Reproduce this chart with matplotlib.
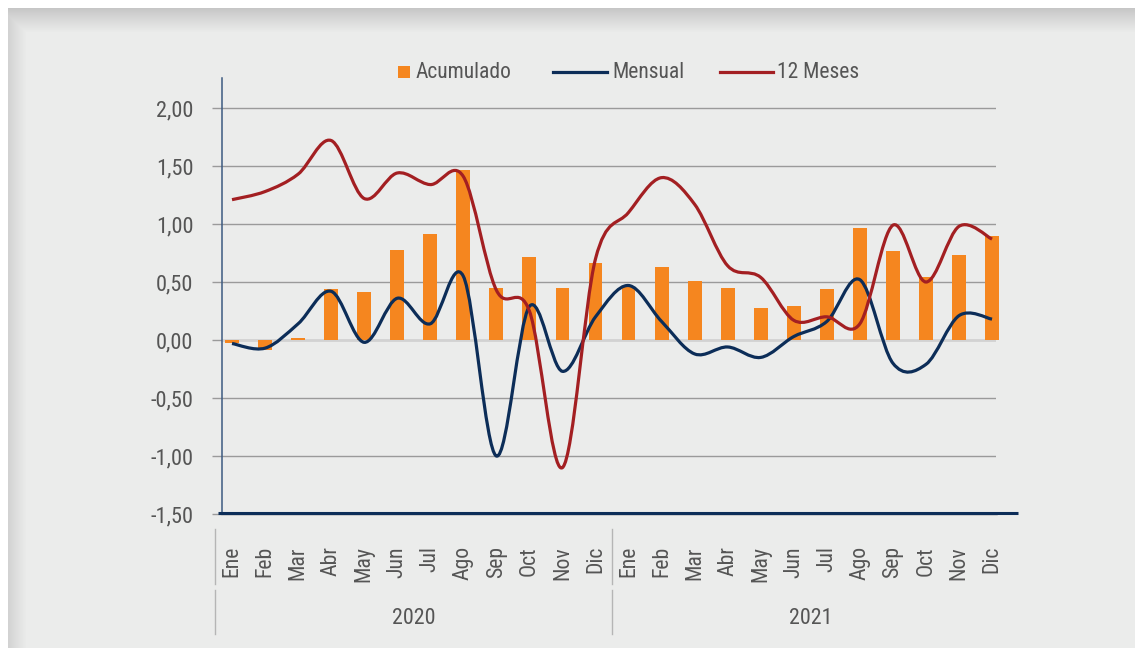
import numpy as np
import matplotlib
matplotlib.use("Agg")
import matplotlib.pyplot as plt
import matplotlib.transforms as mtransforms
from matplotlib.path import Path
from matplotlib.patches import PathPatch, Rectangle
from matplotlib.lines import Line2D
from matplotlib import font_manager

# =========================
# Datos
# =========================
meses = ["Ene", "Feb", "Mar", "Abr", "May", "Jun",
         "Jul", "Ago", "Sep", "Oct", "Nov", "Dic"] * 2
anios = ["2020", "2021"]

acumulado = [-0.03, -0.09, 0.02, 0.44, 0.41, 0.78, 0.91, 1.47, 0.45, 0.72, 0.45, 0.66,
             0.46, 0.63, 0.51, 0.45, 0.28, 0.29, 0.44, 0.97, 0.77, 0.54, 0.73, 0.90]
mensual = [-0.03, -0.07, 0.14, 0.42, -0.02, 0.36, 0.14, 0.55, -1.00, 0.29, -0.27, 0.20,
           0.47, 0.16, -0.12, -0.06, -0.15, 0.03, 0.16, 0.52, -0.20, -0.21, 0.21, 0.18]
doce_meses = [1.21, 1.28, 1.43, 1.72, 1.22, 1.44, 1.34, 1.41, 0.43, 0.25, -1.10, 0.70,
              1.10, 1.40, 1.17, 0.64, 0.54, 0.17, 0.20, 0.14, 0.99, 0.50, 0.98, 0.87]

y_ticks = [-1.5, -1.0, -0.5, 0.0, 0.5, 1.0, 1.5, 2.0]

# =========================
# Estilo / fuente
# =========================
NARANJA = "#f5861f"
AZUL = "#0c2d58"
ROJO = "#a31f22"
GRIS_TXT = "#555555"
PANEL = np.array([235, 236, 235]) / 255.0

fuentes = font_manager.fontManager.ttflist
nombres = {f.name for f in fuentes}
STRETCH = "normal"
if "Liberation Sans Narrow" in nombres:
    FAM = "Liberation Sans Narrow"
elif "Roboto Condensed" in nombres:
    FAM = "Roboto Condensed"
elif any(f.name == "DejaVu Sans" and "condensed" in str(f.stretch) for f in fuentes):
    FAM = "DejaVu Sans"
    STRETCH = "condensed"
else:
    FAM = "Roboto" if "Roboto" in nombres else "Liberation Sans"
plt.rcParams["font.family"] = [FAM, "DejaVu Sans"]
plt.rcParams["font.stretch"] = STRETCH

W, H = 1135, 648
fig = plt.figure(figsize=(W / 100, H / 100), dpi=100)
fig.patch.set_facecolor("white")
renderer = fig.canvas.get_renderer()


def tam_para(texto, ancho_px):
    # tamano de fuente para que el texto ocupe ancho_px
    t = fig.text(0, 0, texto, fontsize=10)
    w = t.get_window_extent(renderer).width
    t.remove()
    return 10 * ancho_px / w


fs_ticks = tam_para("-1,50", 43)
fs_leyenda = tam_para("Acumulado", 96)
fs_mes = tam_para("May", 36)
fs_anio = tam_para("2020", 43)

# fondo con sombra arriba e izquierda
bg = fig.add_axes([0, 0, 1, 1], zorder=-10)
img = np.ones((H, W, 3)) * PANEL
img[:8, :, :] = 1.0
img[:, :8, :] = 1.0
sombra_top = np.array([198, 198, 198]) / 255.0
for r in range(8, 32):
    t = ((r - 8) / 24.0) ** 0.9
    img[r, 8:, :] = np.minimum(img[r, 8:, :], sombra_top + (PANEL - sombra_top) * t)
sombra_izq = np.array([210, 210, 210]) / 255.0
for cidx in range(8, 26):
    t = ((cidx - 8) / 18.0) ** 0.9
    img[8:, cidx, :] = np.minimum(img[8:, cidx, :], sombra_izq + (PANEL - sombra_izq) * t)
bg.imshow(img, aspect="auto", interpolation="bilinear")
bg.axis("off")


def px(x):
    return x / W


def py(y):
    return (H - y) / H


# =========================
# Ejes
# =========================
ax = fig.add_axes([px(222), py(514), px(996) - px(222), py(78) - py(514)])
ax.set_facecolor("none")
x = np.arange(len(meses))
ax.set_xlim(-0.303, 23.12)
ax.set_ylim(-1.5, 2.259)

ax.set_yticks(y_ticks)
ax.set_yticklabels([f"{v:.2f}".replace(".", ",") for v in y_ticks])
ax.tick_params(axis="y", length=7, width=1.0, color="#9a9a9a", pad=13.5,
               labelsize=fs_ticks, labelcolor=GRIS_TXT)
ax.set_xticks([])
ax.yaxis.grid(True, color="#9a9a9a", lw=1.0, zorder=0)
ax.set_axisbelow(True)
for s in ["top", "right", "bottom"]:
    ax.spines[s].set_visible(False)
ax.spines["left"].set_color("#3d5a80")
ax.spines["left"].set_linewidth(1.1)

ax.axhline(0, color="#d2d2d2", lw=1.8, zorder=1)
ax.axhline(-1.5, color="#c4c4c4", lw=1.8, zorder=1, clip_on=False)

# barras
ax.bar(x, acumulado, width=0.42, color=NARANJA, zorder=2, clip_on=False)


# lineas suavizadas (bezier tipo Excel)
def linea_suave(xs, ys, color):
    pts = np.column_stack([xs, ys]).astype(float)
    ext = np.vstack([pts[0], pts, pts[-1]])
    verts = [pts[0]]
    codes = [Path.MOVETO]
    for i in range(len(pts) - 1):
        p0, p1, p2, p3 = ext[i], ext[i + 1], ext[i + 2], ext[i + 3]
        verts += [p1 + (p2 - p0) / 6.0, p2 - (p3 - p1) / 6.0, p2]
        codes += [Path.CURVE4] * 3
    ax.add_patch(PathPatch(Path(verts, codes), fill=False, edgecolor=color,
                           lw=2.3, joinstyle="round", capstyle="butt",
                           zorder=3, clip_on=False))


linea_suave(x, mensual, AZUL)
linea_suave(x, doce_meses, ROJO)

# linea base azul gruesa
fig.add_artist(Line2D([px(218), px(1018)], [py(513), py(513)],
                      color=AZUL, lw=2.2, solid_capstyle="butt"))

# =========================
# Etiquetas de categorias
# =========================
trans = mtransforms.blended_transform_factory(ax.transData, fig.transFigure)
for i, m in enumerate(meses):
    ax.text(i, py(546), m, rotation=90, ha="center", va="top",
            fontsize=fs_mes, color=GRIS_TXT, transform=trans)
for k, a in enumerate(anios):
    ax.text(5.5 + 12 * k, py(619), a, ha="center", va="center",
            fontsize=fs_anio, color=GRIS_TXT, transform=trans)
for xb in [-0.5, 11.5]:
    ax.plot([xb, xb], [py(529), py(584)], color="#b5b5b5", lw=1.0,
            transform=trans, clip_on=False)
    ax.plot([xb, xb], [py(590), py(634)], color="#b5b5b5", lw=1.0,
            transform=trans, clip_on=False)

# =========================
# Leyenda
# =========================
fig.add_artist(Rectangle((px(398), py(78)), px(12), 12 / H,
                         facecolor=NARANJA, edgecolor="none"))
fig.text(px(416), py(72), "Acumulado", fontsize=fs_leyenda, color=GRIS_TXT,
         ha="left", va="center")
fig.add_artist(Line2D([px(553), px(607)], [py(72), py(72)], color=AZUL, lw=2.3))
fig.text(px(612), py(72), "Mensual", fontsize=fs_leyenda, color=GRIS_TXT,
         ha="left", va="center")
fig.add_artist(Line2D([px(720), px(773)], [py(72), py(72)], color=ROJO, lw=2.3))
fig.text(px(777), py(72), "12 Meses", fontsize=fs_leyenda, color=GRIS_TXT,
         ha="left", va="center")

fig.savefig("out.png", dpi=100, facecolor=fig.get_facecolor())
